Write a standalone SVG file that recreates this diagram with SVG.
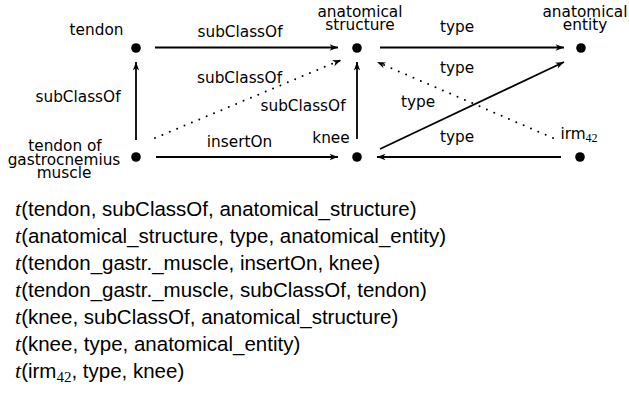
<svg xmlns="http://www.w3.org/2000/svg" width="629" height="398" viewBox="0 0 629 398">
<style>
.lbl{font-family:"DejaVu Sans",sans-serif;font-size:15.3px;fill:#000;text-anchor:middle}
.tri{font-family:"Liberation Sans",Arial,sans-serif;font-size:20.5px;fill:#000}
.it{font-family:"Liberation Serif",serif;font-style:italic;font-size:22px}
.sub{font-family:"Liberation Serif",serif}
.e{stroke:#000;stroke-width:1.8;fill:none;marker-end:url(#ah)}
.d{stroke:#000;stroke-width:2;fill:none;stroke-dasharray:0 8;stroke-linecap:round;marker-end:url(#ah)}
</style>
<defs>
<marker id="ah" markerUnits="userSpaceOnUse" viewBox="-9 -4 10 8" refX="0" refY="0" markerWidth="10" markerHeight="8" orient="auto">
<path d="M0,0 L-8.5,-3.2 L-6,0 L-8.5,3.2 z" fill="#000"/>
</marker>
</defs>
<rect width="629" height="398" fill="#fff"/>
<g id="connectors">
<path class="e" d="M155,47.5 L338,47.5"/>
<path class="e" d="M380,47.5 L564,47.5"/>
<path class="e" d="M136,140 L136,62"/>
<path class="e" d="M357,139 L357,62"/>
<path class="e" d="M156,157 L338,157"/>
<path class="e" d="M561,157 L377,157"/>
<path class="e" d="M380,149 L564,62"/>
<path class="d" d="M155,138 L341,60"/>
<path class="d" d="M553,138 L377,62"/>
<text class="lbl" x="240" y="36.5">subClassOf</text>
<text class="lbl" x="457" y="32">type</text>
<text class="lbl" x="78" y="101.5">subClassOf</text>
<text class="lbl" x="239.5" y="83">subClassOf</text>
<text class="lbl" x="303" y="110.5">subClassOf</text>
<text class="lbl" x="457" y="73">type</text>
<text class="lbl" x="418" y="107">type</text>
<text class="lbl" x="239.5" y="146.5">insertOn</text>
<text class="lbl" x="457" y="141.5">type</text>
</g>
<g id="tendon">
<circle cx="136" cy="48" r="4.8"/>
<text class="lbl" x="96.5" y="35">tendon</text>
</g>
<g id="anatomical_structure">
<circle cx="357" cy="48" r="4.8"/>
<text class="lbl" x="360" y="16.5">anatomical</text>
<text class="lbl" x="360" y="30">structure</text>
</g>
<g id="anatomical_entity">
<circle cx="581" cy="48" r="4.8"/>
<text class="lbl" x="585" y="16.5">anatomical</text>
<text class="lbl" x="585" y="30">entity</text>
</g>
<g id="tendon_gastr_muscle">
<circle cx="136" cy="157" r="4.8"/>
<text class="lbl" x="65" y="151">tendon of</text>
<text class="lbl" x="64" y="165">gastrocnemius</text>
<text class="lbl" x="64" y="178">muscle</text>
</g>
<g id="knee">
<circle cx="357" cy="157" r="4.8"/>
<text class="lbl" x="331" y="143">knee</text>
</g>
<g id="irm42">
<circle cx="580" cy="157" r="4.8"/>
<text class="lbl" x="579" y="139">irm<tspan class="sub" font-size="12" dy="3">42</tspan></text>
</g>
<g id="triples">
<text class="tri" x="15" y="216"><tspan class="it">t</tspan>(tendon, subClassOf, anatomical_structure)</text>
<text class="tri" x="15" y="243"><tspan class="it">t</tspan>(anatomical_structure, type, anatomical_entity)</text>
<text class="tri" x="15" y="270"><tspan class="it">t</tspan>(tendon_gastr._muscle, insertOn, knee)</text>
<text class="tri" x="15" y="297"><tspan class="it">t</tspan>(tendon_gastr._muscle, subClassOf, tendon)</text>
<text class="tri" x="15" y="324"><tspan class="it">t</tspan>(knee, subClassOf, anatomical_structure)</text>
<text class="tri" x="15" y="351"><tspan class="it">t</tspan>(knee, type, anatomical_entity)</text>
<text class="tri" x="15" y="378"><tspan class="it">t</tspan>(irm<tspan class="sub" font-size="15" dy="4">42</tspan><tspan dy="-4">, type, knee)</tspan></text>
</g>
</svg>
